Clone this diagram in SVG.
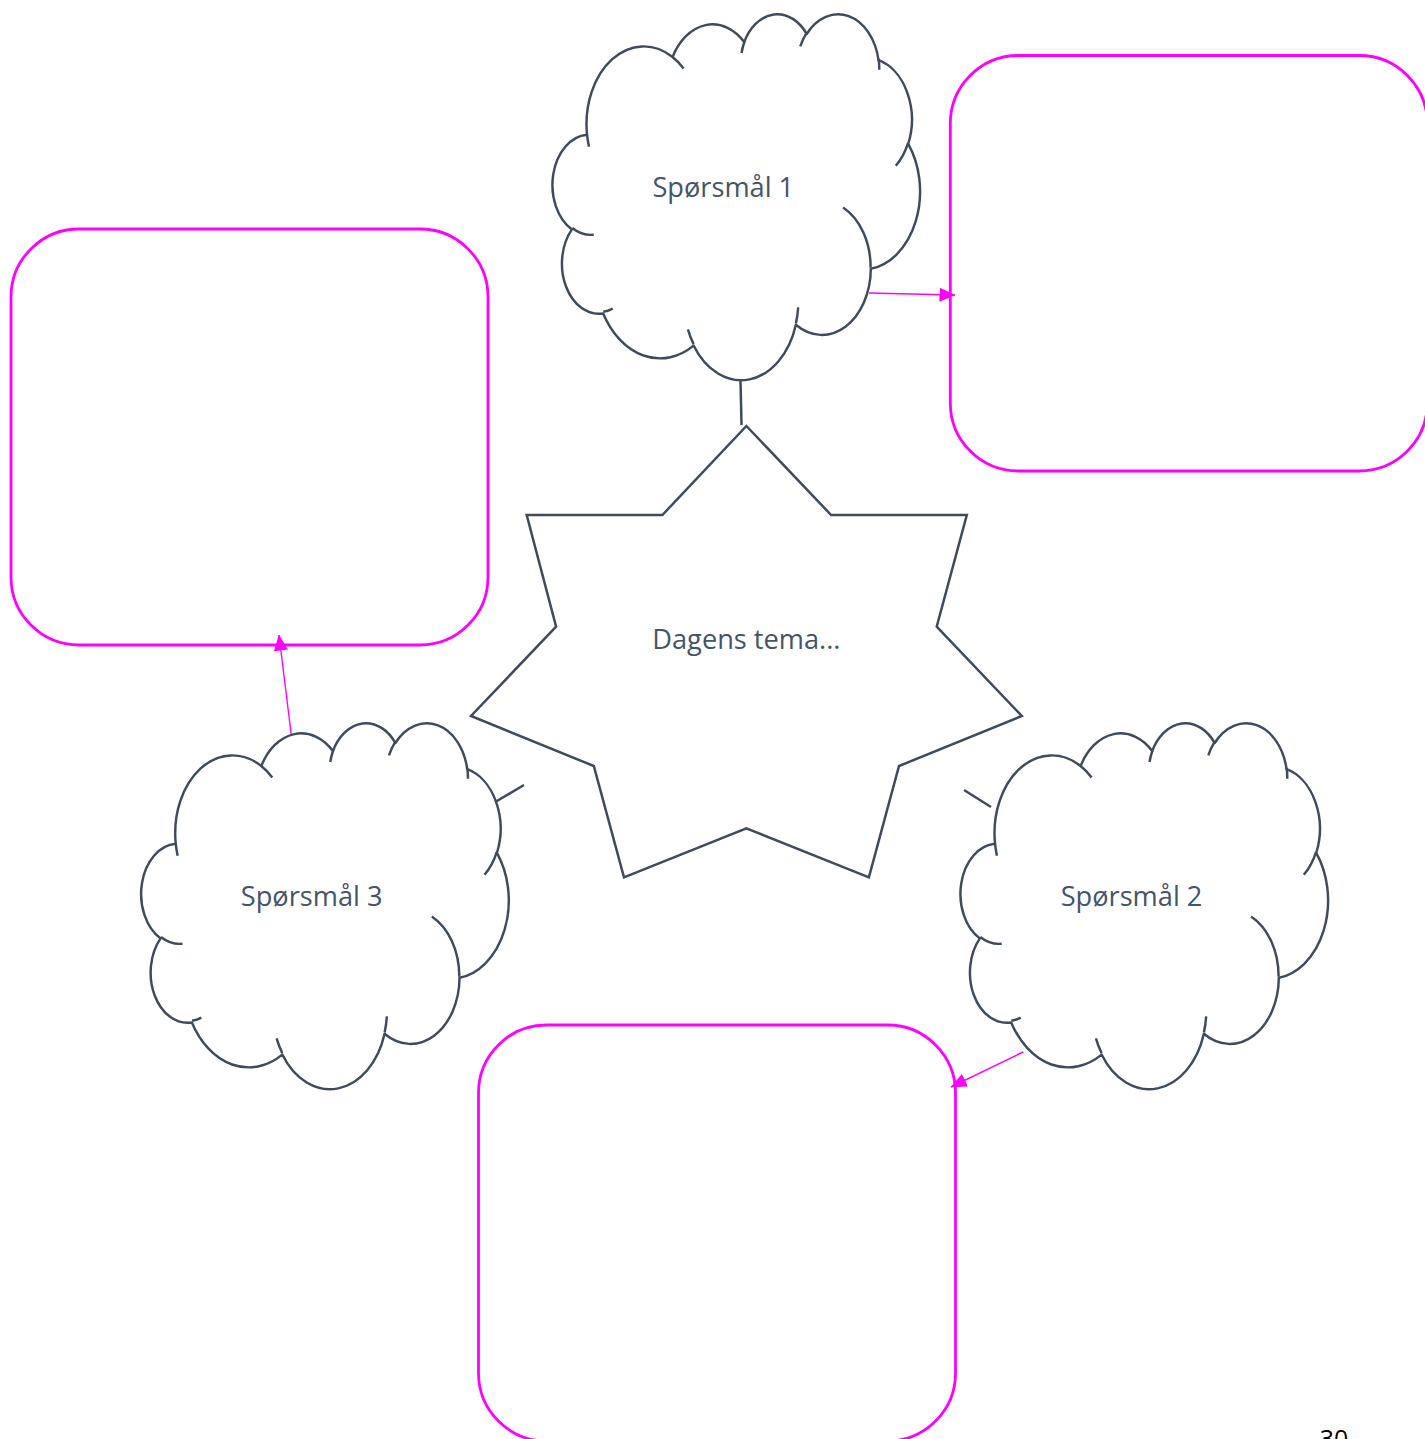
<svg xmlns="http://www.w3.org/2000/svg" xmlns:xlink="http://www.w3.org/1999/xlink" width="1425" height="1439" viewBox="0 0 1425 1439">
<style>
.cloud{fill:#FFFFFF;stroke:#3F4B5D;stroke-width:290;stroke-linejoin:round}
.cloudIn{fill:none;stroke:#3F4B5D;stroke-width:290}
.star{fill:#FFFFFF;stroke:#3F4B5D;stroke-width:2.5;stroke-linejoin:miter}
.box{fill:none;stroke:#FF00FF;stroke-width:2.8}
.link{stroke:#3F4B5D;stroke-width:2.5;fill:none}
.arrow{stroke:#FF00FF;stroke-width:1.4;fill:none}
.lbl{font-family:"Open Sans","Liberation Sans",sans-serif;font-size:27.2px;fill:#44546A;text-anchor:middle}
.pg{font-family:"Open Sans","Liberation Sans",sans-serif;font-size:25px;fill:#000000;text-anchor:middle}
</style>
<defs>
<marker id="ah" viewBox="0 0 16 14" refX="15.5" refY="7" markerWidth="16" markerHeight="14" orient="auto" markerUnits="userSpaceOnUse">
<path d="M0,0 L16,7 L0,14 Z" fill="#FF00FF"/>
</marker>
<path id="cOut" d="M3900 14370 A6753 9190 0 0 1 14005 5202 A5333 7267 0 0 1 22457 3432 A4365 5945 0 0 1 29833 2481 A4857 6595 0 0 1 38318 5575 A5333 7273 0 0 1 41819 15459 A6775 9220 0 0 1 37405 30203 A5785 7867 0 0 1 28556 36813 A6752 9215 0 0 1 16482 39266 A7720 10543 0 0 1 5805 35470 A4360 5918 0 0 1 2114 25549 A4345 5945 0 0 1 3900 14370 Z"/>
<path id="cIn" d="M4693 26177 A4345 5945 0 0 1 2160 25380 M6928 34899 A4360 5918 0 0 1 5820 35281 M16478 39090 A6752 9215 0 0 1 15809 37348 M28827 34751 A6752 9215 0 0 1 28560 36660 M34129 22954 A5785 7867 0 0 1 37380 30090 M41798 15354 A5333 7273 0 0 1 40350 18030 M38324 5426 A4857 6595 0 0 1 38401 6690 M29078 3952 A4857 6595 0 0 1 29820 2341 M22141 4720 A4365 5945 0 0 1 22500 3330 M14000 5192 A6753 9190 0 0 1 15300 6541 M4127 15789 A6753 9190 0 0 1 3900 14371"/>
</defs>
<rect x="0" y="0" width="1425" height="1439" fill="#FFFFFF"/>

<g id="box-right">
<rect class="box" x="950.3" y="55.5" width="477" height="415.5" rx="68" ry="68"/>
</g>
<g id="box-left">
<rect class="box" x="11" y="229" width="477" height="416" rx="68" ry="68"/>
</g>
<g id="box-bottom">
<rect class="box" x="478.5" y="1025" width="477" height="416" rx="68" ry="68"/>
</g>

<g id="connectors">
<line class="link" x1="740.5" y1="380" x2="741.5" y2="425"/>
<line class="link" x1="524" y1="785" x2="496" y2="801.5"/>
<line class="link" x1="964" y1="790" x2="991" y2="807"/>
<line class="arrow" x1="869" y1="293" x2="955" y2="295" marker-end="url(#ah)"/>
<line class="arrow" x1="1023" y1="1052" x2="951" y2="1087" marker-end="url(#ah)"/>
<line class="arrow" x1="291.5" y1="737" x2="279" y2="635" marker-end="url(#ah)"/>
</g>

<g id="star">
<polygon class="star" points="746.4,426 831.1,515 966.8,515 936.7,626.7 1021.8,716 899,766 868.9,877.3 746.4,828.3 624,877.3 593.8,766 471,716 556.1,626.7 526.7,515 662.4,515"/>
<text class="lbl" x="746.4" y="649.3">Dagens tema...</text>
</g>

<g id="cloud1">
<g transform="translate(554,13) scale(0.00847)">
<use xlink:href="#cOut" class="cloud"/>
<use xlink:href="#cIn" class="cloudIn"/>
</g>
<text class="lbl" x="723.3" y="196.7">Spørsmål 1</text>
</g>

<g id="cloud2">
<g transform="translate(962,722) scale(0.00847)">
<use xlink:href="#cOut" class="cloud"/>
<use xlink:href="#cIn" class="cloudIn"/>
</g>
<text class="lbl" x="1131.5" y="905.7">Spørsmål 2</text>
</g>

<g id="cloud3">
<g transform="translate(142.7,722) scale(0.00847)">
<use xlink:href="#cOut" class="cloud"/>
<use xlink:href="#cIn" class="cloudIn"/>
</g>
<text class="lbl" x="311.7" y="905.7">Spørsmål 3</text>
</g>

<text class="pg" x="1334" y="1448">30</text>
</svg>
